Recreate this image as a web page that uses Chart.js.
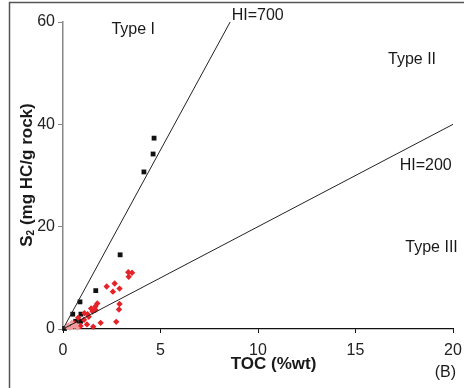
<!DOCTYPE html>
<html>
<head>
<meta charset="utf-8">
<script src="https://cdn.jsdelivr.net/npm/chart.js@4.4.0/dist/chart.umd.min.js"></script>
<style>
  body { margin: 0; background: #fff; }
  #wrap { width: 464px; height: 388px; position: relative; }
</style>
</head>
<body>
<div id="wrap"><canvas id="chart" width="464" height="388"></canvas></div>
<script>
// TOC vs S2 (Type I / II / III kerogen)
const blackX = [4.67, 4.62, 4.15, 2.93, 1.68, 0.87, 0.5, 0.92, 0.65, 0.9, 0.08, 0.3];
const blackY = [37.3, 34.2, 30.7, 14.5, 7.5, 5.3, 2.9, 2.9, 1.5, 1.5, 0.1, 0.5];

const redX = [3.35, 3.54, 3.37, 2.24, 2.65, 2.9, 2.56, 2.9, 2.87, 1.76, 1.66, 1.44, 1.67, 1.52,
  1.26, 1.32, 1.08, 1.23, 1.55, 1.93, 2.73, 0.58, 0.9, 0.78, 1.1];
const redY = [11.1, 11.0, 10.2, 8.3, 8.9, 7.9, 7.3, 4.9, 3.8, 5.0, 4.4, 4.0, 3.7, 3.4,
  2.9, 2.4, 1.8, 0.9, 0.45, 1.2, 1.4, 1.1, 0.6, 2.2, 3.1];

const pinkX = [0.27, 0.45, 0.6, 0.75, 0.35, 0.52, 0.2, 0.68, 0.45];
const pinkY = [0.8, 0.3, 0.5, 0.2, 0.15, 0.9, 0.35, 0.8, 1.3];

// HI lines (S2 = HI/100 * TOC)
const hiValues = [700, 200];
const hiLabels = ["HI=700", "HI=200"];

const xTicks = [0, 5, 10, 15, 20];
const yTicks = [0, 20, 40, 60];

function pts(xs, ys) {
  return xs.map((x, i) => ({ x: x, y: ys[i] }));
}

function hiLine(hi) {
  const k = hi / 100;
  const xEnd = Math.min(20, 60 / k);
  return [{ x: 0, y: 0 }, { x: xEnd, y: xEnd * k }];
}

const labels = [
  { text: "Type I", x: 3.6, y: 58.6, align: "center" },
  { text: hiLabels[0], x: 8.65, y: 61.2, align: "left" },
  { text: "Type II", x: 17.9, y: 52.6, align: "center" },
  { text: hiLabels[1], x: 18.6, y: 31.9, align: "center" },
  { text: "Type III", x: 18.9, y: 16.0, align: "center" },
];

const extras = {
  id: "extras",
  beforeDraw(chart) {
    const ctx = chart.ctx;
    ctx.save();
    ctx.strokeStyle = "#555";
    ctx.lineWidth = 1.5;
    ctx.strokeRect(9.5, 2.5, 480, 420);
    ctx.restore();
  },
  afterDraw(chart) {
    const ctx = chart.ctx;
    const xs = chart.scales.x;
    const ys = chart.scales.y;
    ctx.save();
    ctx.fillStyle = "#1a1a1a";
    ctx.font = "16px 'Liberation Sans', Arial, sans-serif";
    ctx.textBaseline = "middle";
    labels.forEach((l) => {
      ctx.textAlign = l.align;
      ctx.fillText(l.text, xs.getPixelForValue(l.x), ys.getPixelForValue(l.y));
    });
    ctx.textAlign = "right";
    ctx.fillText("(B)", 456, 373);

    // axis titles
    ctx.font = "bold 17px 'Liberation Sans', Arial, sans-serif";
    ctx.textAlign = "center";
    ctx.fillText("TOC (%wt)", xs.getPixelForValue(10.8), 364);

    ctx.translate(27, 175);
    ctx.rotate(-Math.PI / 2);
    const rest = " (mg HC/g rock)";
    const wS = ctx.measureText("S").width;
    ctx.font = "bold 10px 'Liberation Sans', Arial, sans-serif";
    const w2 = ctx.measureText("2").width;
    ctx.font = "bold 17px 'Liberation Sans', Arial, sans-serif";
    const wR = ctx.measureText(rest).width;
    let x0 = -(wS + w2 + wR) / 2;
    ctx.textAlign = "left";
    ctx.fillText("S", x0, 0);
    ctx.font = "bold 10px 'Liberation Sans', Arial, sans-serif";
    ctx.fillText("2", x0 + wS, 4);
    ctx.font = "bold 17px 'Liberation Sans', Arial, sans-serif";
    ctx.fillText(rest, x0 + wS + w2, 0);
    ctx.restore();
  },
};

new Chart(document.getElementById("chart"), {
  type: "scatter",
  data: {
    datasets: [
      {
        type: "line",
        data: hiLine(hiValues[0]),
        borderColor: "#222",
        borderWidth: 1,
        pointRadius: 0,
        clip: false,
      },
      {
        type: "line",
        data: hiLine(hiValues[1]),
        borderColor: "#222",
        borderWidth: 1,
        pointRadius: 0,
        clip: false,
      },
      {
        data: pts(pinkX, pinkY),
        pointStyle: "rectRot",
        pointRadius: 2.6,
        backgroundColor: "#f39a9c",
        borderWidth: 0,
        clip: false,
      },
      {
        data: pts(redX, redY),
        pointStyle: "rectRot",
        pointRadius: 3.2,
        backgroundColor: "#e42328",
        borderWidth: 0,
        clip: false,
      },
      {
        data: pts(blackX, blackY),
        pointStyle: "rect",
        pointRadius: 3.4,
        backgroundColor: "#111",
        borderWidth: 0,
        clip: false,
      },
    ],
  },
  options: {
    responsive: false,
    animation: false,
    layout: { padding: { left: 0, right: 11, top: 22, bottom: 0 } },
    plugins: { legend: { display: false }, tooltip: { enabled: false } },
    scales: {
      x: {
        type: "linear",
        min: 0,
        max: 20,
        afterBuildTicks: (s) => { s.ticks = xTicks.map((v) => ({ value: v })); },
        afterFit: (s) => { s.height = 59; s.paddingRight = 0; s.paddingLeft = 0; },
        border: { display: true, color: "#111", width: 1.2 },
        grid: { drawOnChartArea: false, drawTicks: true, tickLength: 4, color: "#111" },
        ticks: {
          color: "#222",
          padding: 8,
          font: { family: "'Liberation Sans', Arial, sans-serif", size: 16 },
        },
      },
      y: {
        type: "linear",
        min: 0,
        max: 60,
        afterBuildTicks: (s) => { s.ticks = yTicks.map((v) => ({ value: v })); },
        afterFit: (s) => { s.width = 63; s.paddingTop = 0; s.paddingBottom = 0; },
        border: { display: true, color: "#888", width: 1.5 },
        grid: { drawOnChartArea: false, drawTicks: true, tickLength: 5, color: "#888" },
        ticks: {
          color: "#222",
          padding: 3,
          font: { family: "'Liberation Sans', Arial, sans-serif", size: 16 },
        },
      },
    },
  },
  plugins: [extras],
});
</script>
</body>
</html>
